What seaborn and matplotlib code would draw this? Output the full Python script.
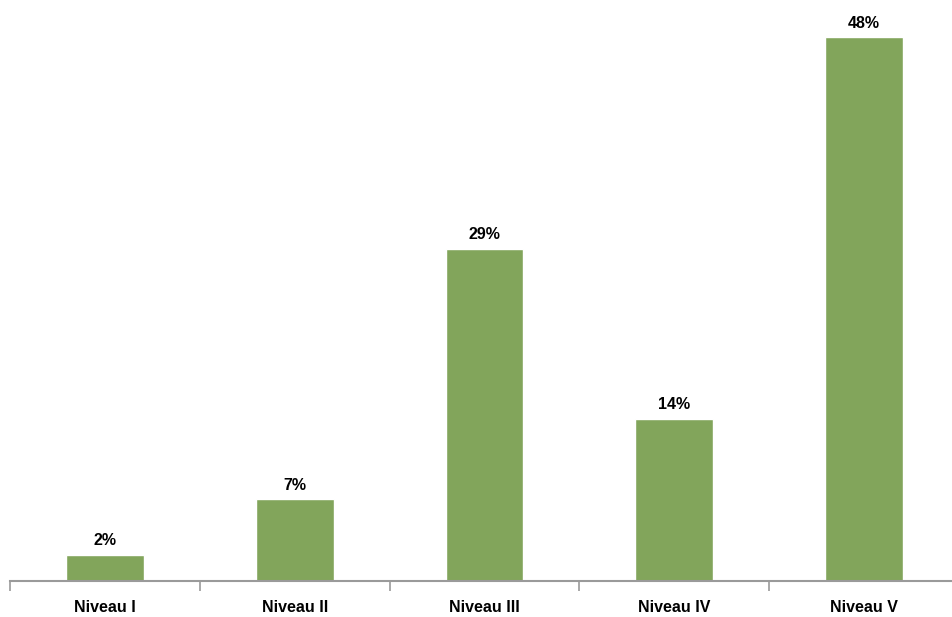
import numpy as np
import pandas as pd
import seaborn as sns
import matplotlib.pyplot as plt
from matplotlib.ticker import FixedLocator

niveaux = ['Niveau I', 'Niveau II', 'Niveau III', 'Niveau IV', 'Niveau V']
parts = [2.3, 7.2, 29.3, 14.3, 48.0]
etiquettes = ['2%', '7%', '29%', '14%', '48%']

df = pd.DataFrame({'niveau': niveaux, 'part': parts})

sns.set_style('white')
plt.rcParams['font.family'] = ['Liberation Sans', 'DejaVu Sans']

fig = plt.figure(figsize=(9.52, 6.17), dpi=100)
ax = fig.add_axes([0.0108, 0.0583, 0.9963, 0.9417])

sns.barplot(x='niveau', y='part', data=df, color='#82a55b', width=0.41,
            saturation=1, ax=ax)

for i, (v, lab) in enumerate(zip(parts, etiquettes)):
    ax.text(i, v + 0.6, lab, ha='center', va='bottom', fontsize=11.5,
            fontweight='bold', color='black')

ax.set_ylim(0, 51.3)
ax.set_xlim(-0.5, 4.5)
ax.set_xlabel('')
ax.set_ylabel('')
ax.set_yticks([])

for s in ['top', 'right', 'left']:
    ax.spines[s].set_visible(False)
ax.spines['bottom'].set_color('#9a9a9a')
ax.spines['bottom'].set_linewidth(1.5)

ax.tick_params(axis='x', which='major', length=0, pad=14, labelcolor='black')
ax.xaxis.set_minor_locator(FixedLocator(np.arange(-0.5, 5, 1)))
ax.tick_params(axis='x', which='minor', bottom=True, length=7, width=1.2,
               color='#9a9a9a', direction='out')
for t in ax.get_xticklabels():
    t.set_fontweight('bold')
    t.set_fontsize(11.5)

fig.savefig('out.png', dpi=100)
